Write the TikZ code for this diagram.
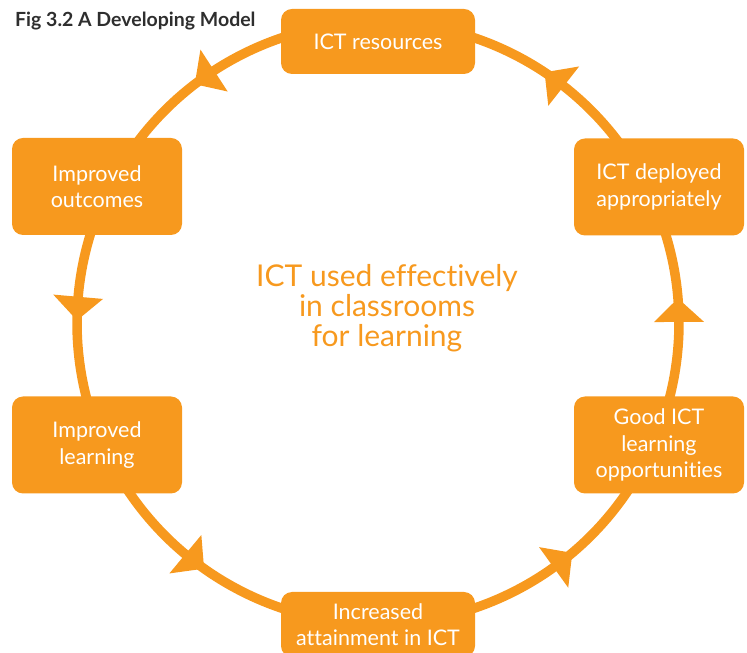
\documentclass[tikz,border=0pt]{standalone}
\usepackage{fontspec}
\setmainfont{Lato}[Ligatures=NoCommon]
\usetikzlibrary{calc}
\definecolor{ora}{HTML}{F7991E}
\definecolor{ttl}{HTML}{2E2E2E}
\begin{document}
\begin{tikzpicture}[x=1pt,y=1pt,
  box/.style={fill=ora, rounded corners=11pt, text=white, align=center,
    font=\fontsize{21.5}{26.5}\selectfont, inner sep=0pt},
  wide/.style={box, minimum width=194pt, minimum height=65pt},
  side/.style={box, minimum width=170pt, minimum height=97pt},
  ring/.style={draw=ora, line width=9.5pt},
  tipfill/.style={fill=ora}]
\useasboundingbox (0,0) rectangle (747,653);
\coordinate (c) at (378,330);
% ring segments: start angle / end angle / arrow base angle
\foreach \a/\b/\t in {90/154/123, 154/203.5/175, 203.5/270/230.2, 270/336.5/305.7, 336.5/386/360.2, 26/90/51.9}{
  \draw[ring] ($(c)+(\a:301)$) arc[start angle=\a, end angle=\b, radius=301];
  \fill[tipfill] ($(c)+(\t:276)$) -- ($(c)+(\t:326)$) -- ($(c)+(\t+4.5:301)$) -- cycle;
}
\node[wide] (res) at (378,611.5) {ICT resources};
\node[side] (out) at (97,466.5) {Improved\\outcomes};
\node[side] (dep) at (659,466) {ICT deployed\\appropriately};
\node[side] (lrn) at (97,208) {Improved\\learning};
\node[side] (good) at (659,208) {Good ICT\\learning\\opportunities};
\node[wide] (att) at (378,28.5) {Increased\\attainment in ICT};
\node[text=ora, align=center, font=\fontsize{30}{30}\selectfont] (mid) at (387,345)
  {ICT used effectively\\in classrooms\\for learning};
\node[anchor=base west, text=ttl, font=\fontsize{19.5}{20}\selectfont\bfseries, inner sep=0pt] (title) at (15,626)
  {Fig 3.2 A Developing Model};
\end{tikzpicture}
\end{document}
